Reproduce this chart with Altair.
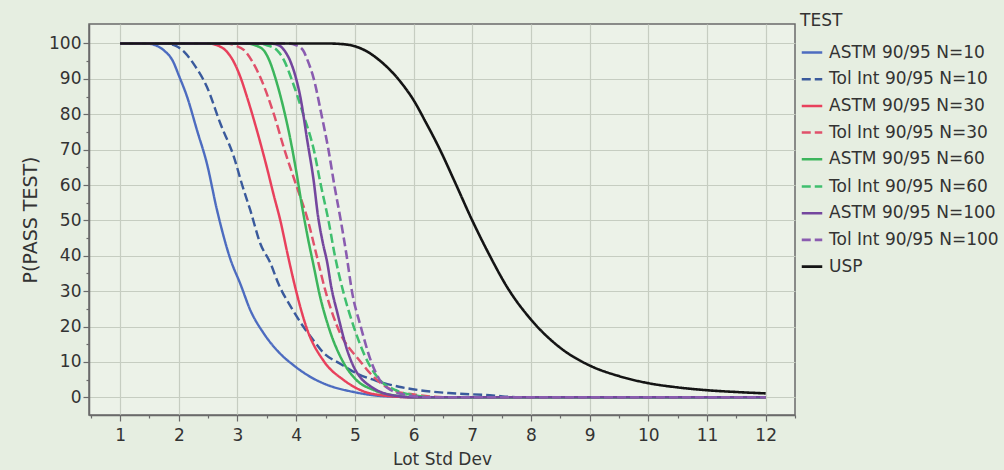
import altair as alt
import pandas as pd

SERIES = [
    "ASTM 90/95 N=10", "Tol Int 90/95 N=10",
    "ASTM 90/95 N=30", "Tol Int 90/95 N=30",
    "ASTM 90/95 N=60", "Tol Int 90/95 N=60",
    "ASTM 90/95 N=100", "Tol Int 90/95 N=100",
    "USP",
]
COLORS = ["#4d6cc0", "#3a5a9c", "#e8405c", "#e0506a", "#3cb55c", "#3fbf6e",
          "#74469e", "#8a5cb0", "#141414"]
DASHES = [[1, 0], [9, 4], [1, 0], [9, 4], [1, 0], [9, 4], [1, 0], [9, 4], [1, 0]]
WIDTHS = [2.4, 2.6, 2.4, 2.6, 2.6, 2.6, 2.8, 2.8, 3.4]

astm10_x = [1, 1.5, 1.6, 1.75, 1.9, 2.0, 2.14, 2.31, 2.48, 2.65, 2.88, 3.05, 3.22, 3.45, 3.73, 3.96, 4.25, 4.47, 4.98, 5.6, 6.2, 8, 12]
astm10_y = [100, 99.9, 99.5, 98, 95, 91, 85, 75.5, 66, 53, 39, 32, 24.6, 18, 12.3, 9, 5.7, 3.9, 1.5, 0.2, 0, 0, 0]

tol10_x = [1, 1.8, 1.95, 2.1, 2.25, 2.48, 2.71, 2.94, 3.08, 3.22, 3.39, 3.56, 3.7, 3.93, 4.12, 4.3, 4.47, 4.75, 5.0, 5.4, 5.75, 6.2, 6.6, 7.3, 7.8, 10, 12]
tol10_y = [100, 99.9, 99.3, 97.5, 94.3, 87.7, 77.3, 67.9, 60, 52.8, 43.4, 38, 32, 25, 20, 16, 12.5, 9.5, 7, 4.5, 3, 1.8, 1.2, 0.6, 0, 0, 0]

astm30_x = [1, 2.5, 2.65, 2.8, 2.93, 3.05, 3.16, 3.33, 3.5, 3.62, 3.73, 3.86, 4.0, 4.17, 4.48, 4.8, 5.1, 5.5, 6.0, 8, 12]
astm30_y = [100, 100, 99.5, 98, 95, 90.5, 85, 75.5, 65, 57, 50, 40, 30, 20, 10, 5, 2, 0.5, 0, 0, 0]

tol30_x = [1, 2.8, 2.97, 3.12, 3.25, 3.4, 3.62, 3.8, 4.0, 4.2, 4.35, 4.5, 4.7, 5.1, 5.37, 5.65, 6.1, 6.6, 8, 12]
tol30_y = [100, 100, 99.4, 98, 95, 90, 80, 70, 60, 50, 40, 30, 20, 10, 5, 2, 0.6, 0, 0, 0]

astm60_x = [1, 3.15, 3.3, 3.45, 3.56, 3.65, 3.78, 3.9, 4.0, 4.1, 4.2, 4.3, 4.4, 4.55, 4.8, 5.02, 5.33, 5.7, 6.1, 8, 12]
astm60_y = [100, 100, 99.5, 98, 94.5, 90, 82, 73, 64, 54, 45, 37, 29, 20, 10, 5, 2, 0.5, 0, 0, 0]

tol60_x = [1, 3.35, 3.5, 3.68, 3.8, 3.92, 4.12, 4.3, 4.42, 4.55, 4.66, 4.8, 4.98, 5.22, 5.42, 5.7, 6.0, 6.4, 8, 12]
tol60_y = [100, 100, 99.5, 98, 95, 90, 80, 70, 60, 50, 40, 30, 20, 10, 5, 2, 0.6, 0, 0, 0]

astm100_x = [1, 3.55, 3.7, 3.8, 3.9, 4.0, 4.07, 4.19, 4.3, 4.37, 4.45, 4.53, 4.6, 4.7, 4.87, 5.0, 5.1, 5.25, 5.44, 5.7, 6.0, 8, 12]
astm100_y = [100, 100, 99.5, 98, 95, 90, 85, 72.5, 61, 51.5, 44, 38, 31, 24, 13.3, 8, 5.5, 3.3, 1.5, 0.4, 0, 0, 0]

tol100_x = [1, 3.85, 4.0, 4.12, 4.2, 4.3, 4.43, 4.55, 4.65, 4.76, 4.86, 4.95, 5.1, 5.28, 5.42, 5.62, 5.9, 6.3, 8, 12]
tol100_y = [100, 100, 99.5, 98, 95, 90, 80, 70, 60, 50, 40, 30, 20, 10, 5, 2, 0.6, 0, 0, 0]

usp_x = [1, 4.5, 4.8, 5.0, 5.2, 5.4, 5.6, 5.8, 6.0, 6.2, 6.45, 6.7, 7.0, 7.3, 7.6, 8.0, 8.5, 9.0, 9.5, 10, 10.5, 11, 11.5, 12]
usp_y = [100, 100, 99.8, 99.2, 97.8, 95.5, 92.5, 88.7, 84, 78, 70, 61, 50, 40, 31, 22, 14, 9, 6, 4, 2.8, 2, 1.5, 1.1]

XS = [astm10_x, tol10_x, astm30_x, tol30_x, astm60_x, tol60_x, astm100_x, tol100_x, usp_x]
YS = [astm10_y, tol10_y, astm30_y, tol30_y, astm60_y, tol60_y, astm100_y, tol100_y, usp_y]

X_TICKS = list(range(1, 13))
X_MINOR = [i + 0.5 for i in range(0, 13)]
Y_TICKS = list(range(0, 101, 10))
Y_MINOR = list(range(5, 101, 10))

rows = []
for name, xs, ys in zip(SERIES, XS, YS):
    for x, y in zip(xs, ys):
        rows.append({"series": name, "x": x, "y": y})
df = pd.DataFrame(rows)

FONT = "DejaVu Sans"
AX = "#6a6a6a"
TXT = "#333333"

xscale = alt.Scale(domain=[0.47, 12.5], nice=False, zero=False)
yscale = alt.Scale(domain=[-5, 105.5], nice=False, zero=False)

lines = alt.Chart(df).mark_line(interpolate="monotone").encode(
    x=alt.X("x:Q", scale=xscale,
            axis=alt.Axis(values=X_TICKS, title="Lot Std Dev", format="d", orient="bottom",
                          grid=True, tickSize=6, labelPadding=6, titlePadding=8,
                          titleFontSize=17)),
    y=alt.Y("y:Q", scale=yscale,
            axis=alt.Axis(values=Y_TICKS, title="P(PASS TEST)", format="d", orient="left",
                          grid=True, tickSize=6, labelPadding=2, titlePadding=8,
                          titleFontSize=19)),
    color=alt.Color("series:N", scale=alt.Scale(domain=SERIES, range=COLORS),
                    title="TEST",
                    legend=alt.Legend(orient="none", legendX=711, legendY=-11,
                                      symbolType="stroke", symbolSize=420,
                                      symbolStrokeWidth=3, labelOffset=5,
                                      rowPadding=6.7, titlePadding=11)),
    strokeDash=alt.StrokeDash("series:N", scale=alt.Scale(domain=SERIES, range=DASHES),
                              title="TEST"),
    strokeWidth=alt.StrokeWidth("series:N", scale=alt.Scale(domain=SERIES, range=WIDTHS),
                                title="TEST"),
)

minor = alt.Chart(df).mark_point(opacity=0).encode(
    x=alt.X("x:Q", scale=xscale,
            axis=alt.Axis(values=X_MINOR, labels=False, grid=False, domain=False,
                          tickSize=3, title=None, orient="bottom")),
    y=alt.Y("y:Q", scale=yscale,
            axis=alt.Axis(values=Y_MINOR, labels=False, grid=False, domain=False,
                          tickSize=3, title=None, orient="left")),
)

chart = alt.layer(lines, minor).resolve_axis(x="independent", y="independent").properties(
    width=706, height=391,
    autosize=alt.AutoSizeParams(type="none"),
    padding={"left": 89, "top": 24, "right": 209, "bottom": 55},
    background="#e6eee1",
).configure_view(
    fill="#ecf2e8", stroke=AX, strokeWidth=1.5,
).configure_axis(
    labelFont=FONT, titleFont=FONT, labelFontSize=17, labelColor=TXT,
    titleColor=TXT, titleFontWeight="normal",
    domainColor=AX, domainWidth=1.5, tickColor=AX, tickWidth=1.2,
    gridColor="#c6cdc1", gridWidth=1.2,
).configure_legend(
    labelFont=FONT, titleFont=FONT, labelFontSize=17, titleFontSize=17,
    titleFontWeight="normal", labelColor=TXT, titleColor=TXT, labelLimit=300,
)

chart.save("out.html", embed_options={"renderer": "svg", "actions": False})
